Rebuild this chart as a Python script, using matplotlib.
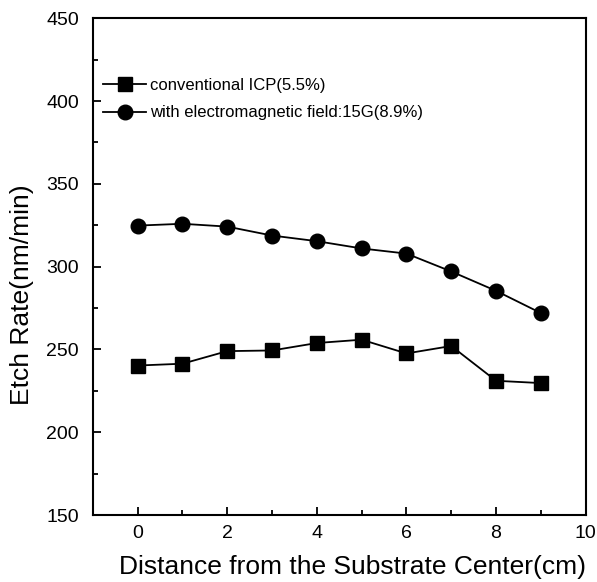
import matplotlib
matplotlib.use("Agg")
import matplotlib.pyplot as plt
from matplotlib.ticker import MultipleLocator

plt.rcParams['font.family'] = ['Liberation Sans', 'DejaVu Sans']

distance = [0, 1, 2, 3, 4, 5, 6, 7, 8, 9]
conventional = [240.3, 241.4, 249.0, 249.4, 253.9, 255.9, 247.6, 252.1, 231.1, 229.7]
with_field = [324.8, 325.9, 324.2, 318.8, 315.4, 311.0, 307.9, 297.1, 285.4, 272.0]

label_conv = "conventional ICP(5.5%)"
label_field = "with electromagnetic field:15G(8.9%)"

fig = plt.figure(figsize=(5.97, 5.82), dpi=100)
ax = fig.add_axes([0.1555, 0.115, 0.8255, 0.8536])

ax.plot(distance, conventional, color='black', lw=1.3, marker='s', ms=9.5, label=label_conv)
ax.plot(distance, with_field, color='black', lw=1.3, marker='o', ms=10.5, label=label_field)

ax.set_xlim(-1, 10)
ax.set_ylim(150, 450)
ax.xaxis.set_major_locator(MultipleLocator(2))
ax.xaxis.set_minor_locator(MultipleLocator(1))
ax.yaxis.set_major_locator(MultipleLocator(50))
ax.yaxis.set_minor_locator(MultipleLocator(25))
ax.tick_params(which='both', direction='in', width=1.3, labelsize=14)
ax.tick_params(which='major', length=6)
ax.tick_params(which='minor', length=3.5)
ax.tick_params(axis='x', pad=7)
ax.tick_params(axis='y', pad=10)
for s in ax.spines.values():
    s.set_linewidth(1.5)

ax.set_xlabel("Distance from the Substrate Center(cm)", fontsize=19)
ax.xaxis.set_label_coords(0.527, -0.08)
ax.set_ylabel("Etch Rate(nm/min)", fontsize=19)
ax.yaxis.set_label_coords(-0.12, 0.443)

ax.legend(loc='upper left', bbox_to_anchor=(-0.01, 0.91), frameon=False,
          fontsize=12, handlelength=2.6, handletextpad=0.2, labelspacing=0.75)

fig.savefig("out.png", dpi=100)
